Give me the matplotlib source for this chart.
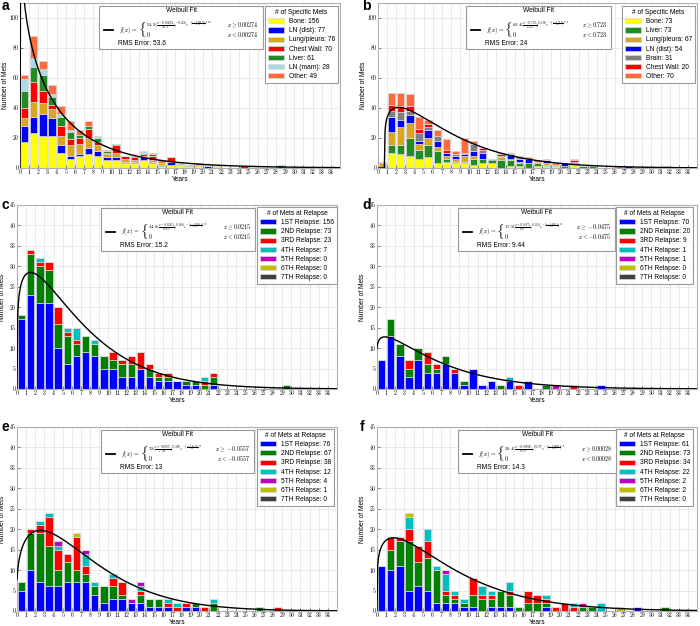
import numpy as np
import matplotlib
matplotlib.use("Agg")
import matplotlib.pyplot as plt
from matplotlib.patches import Rectangle
from matplotlib.lines import Line2D

plt.rcParams['font.family'] = ['Liberation Sans', 'DejaVu Sans']
plt.rcParams['mathtext.fontset'] = 'cm'

# ---------------- data ----------------
# Panel a: specific mets (primary)
a_labels = ["Bone", "LN (dist)", "Lung/pleura", "Chest Wall", "Liver", "LN (mam)", "Other"]
a_totals = [156, 77, 76, 70, 61, 28, 49]
a_bone    = [17, 23, 21, 21, 10, 6, 8, 9, 8, 5, 5, 3, 3, 5, 3, 1, 2, 2, 1, 1, 0, 1, 0, 0, 0, 0, 0, 0, 0]
a_ln_dist = [11, 11, 15, 12, 5, 2, 1, 4, 3, 2, 2, 1, 1, 2, 1, 1, 2, 0, 0, 0, 1, 0, 0, 0, 0, 0, 0, 0, 0]
a_lung    = [5, 10, 7, 6, 6, 7, 7, 7, 4, 2, 3, 2, 1, 1, 1, 1, 0, 0, 0, 1, 0, 0, 0, 0, 0, 0, 0, 0, 0]
a_chest   = [7, 13, 8, 3, 7, 4, 4, 6, 2, 1, 5, 2, 2, 1, 3, 0, 3, 0, 0, 0, 0, 0, 0, 0, 1, 0, 0, 0, 0]
a_liver   = [11, 10, 11, 5, 6, 5, 2, 2, 3, 1, 1, 0, 1, 1, 1, 0, 0, 0, 1, 0, 0, 0, 0, 0, 0, 0, 0, 0, 2]
a_ln_mam  = [8, 6, 4, 2, 2, 1, 0, 0, 1, 0, 0, 0, 0, 1, 0, 0, 0, 1, 0, 0, 1, 0, 0, 0, 0, 0, 0, 0, 0]
a_other   = [3, 15, 5, 6, 5, 6, 3, 3, 0, 1, 0, 0, 0, 0, 1, 2, 0, 0, 0, 1, 0, 0, 0, 0, 0, 0, 0, 0, 0]

# Panel b: specific mets (recurrence)
b_labels = ["Bone", "Liver", "Lung/pleura", "LN (dist)", "Brain", "Chest Wall", "Other"]
b_totals = [73, 73, 67, 54, 31, 20, 70]
b_bone  = [0, 10, 9, 8, 6, 7, 3, 4, 3, 3, 2, 3, 3, 0, 1, 1, 0, 1, 1, 1, 0, 2, 0, 0, 0, 0, 0, 0, 0, 0, 0, 0]
b_liver = [0, 5, 6, 12, 6, 8, 8, 2, 1, 1, 4, 3, 2, 5, 4, 2, 3, 2, 1, 0, 1, 0, 1, 1, 0, 0, 0, 0, 0, 0, 0, 1]
b_lung  = [3, 9, 12, 10, 4, 5, 3, 2, 2, 4, 2, 0, 0, 2, 1, 1, 0, 1, 1, 1, 0, 1, 0, 0, 0, 0, 1, 0, 0, 0, 0, 0]
b_ln    = [0, 10, 5, 5, 2, 5, 4, 2, 2, 1, 3, 4, 1, 0, 3, 2, 3, 0, 2, 0, 2, 1, 0, 0, 0, 0, 0, 1, 0, 0, 0, 0]
b_brain = [0, 4, 5, 3, 5, 2, 3, 0, 1, 0, 5, 2, 0, 1, 0, 1, 0, 0, 0, 0, 0, 0, 0, 0, 0, 0, 0, 0, 0, 0, 0, 0]
b_chest = [0, 4, 4, 3, 3, 2, 0, 2, 0, 1, 0, 1, 0, 1, 0, 0, 0, 0, 0, 0, 0, 1, 0, 0, 0, 0, 0, 0, 0, 0, 0, 0]
b_other = [1, 8, 9, 8, 8, 3, 4, 7, 2, 10, 2, 0, 0, 1, 1, 1, 1, 1, 1, 1, 0, 1, 0, 0, 0, 0, 0, 0, 0, 0, 0, 0]

# Relapse panels c-f
rel_labels = ["1ST Relapse", "2ND Relapse", "3RD Relapse", "4TH Relapse",
              "5TH Relapse", "6TH Relapse", "7TH Relapse"]
c_totals = [156, 73, 23, 7, 0, 0, 0]
c_r1 = [17, 23, 21, 21, 10, 6, 8, 9, 8, 5, 5, 3, 3, 5, 3, 2, 2, 2, 1, 1, 0, 1, 0, 0, 0, 0, 0, 0, 0, 0]
c_r2 = [1, 10, 9, 8, 6, 7, 3, 4, 3, 3, 2, 3, 3, 0, 2, 1, 1, 0, 1, 1, 1, 2, 0, 0, 0, 0, 0, 0, 0, 1]
c_r3 = [0, 1, 1, 2, 4, 1, 1, 0, 0, 0, 2, 1, 2, 4, 1, 1, 1, 0, 0, 0, 1, 1, 0, 0, 0, 0, 0, 0, 0, 0]
c_r4 = [0, 0, 1, 0, 0, 1, 3, 0, 1, 0, 0, 0, 0, 0, 0, 0, 0, 0, 0, 0, 1, 0, 0, 0, 0, 0, 0, 0, 0, 0]
c_r5 = [0] * 30
c_r6 = [0] * 30
c_r7 = [0] * 30

d_totals = [70, 20, 9, 1, 1, 0, 0]
d_r1 = [7, 13, 8, 3, 7, 4, 4, 6, 4, 1, 5, 1, 2, 0, 2, 0, 2, 0, 0, 0, 0, 0, 0, 0, 1]
d_r2 = [0, 4, 3, 2, 3, 2, 1, 2, 0, 1, 0, 0, 0, 1, 0, 0, 0, 0, 1, 0, 0, 0, 0, 0, 0]
d_r3 = [0, 0, 0, 2, 0, 3, 1, 0, 1, 0, 0, 0, 0, 0, 0, 1, 0, 0, 0, 0, 0, 1, 0, 0, 0]
d_r4 = [0, 0, 0, 0, 0, 0, 0, 0, 0, 0, 0, 0, 0, 0, 1, 0, 0, 0, 0, 0, 0, 0, 0, 0, 0]
d_r5 = [0, 0, 0, 0, 0, 0, 0, 0, 0, 0, 0, 0, 0, 0, 0, 0, 0, 0, 0, 1, 0, 0, 0, 0, 0]
d_r6 = [0] * 25
d_r7 = [0] * 25

e_totals = [76, 67, 38, 12, 4, 1, 0]
e_r1 = [5, 10, 7, 6, 6, 7, 7, 7, 4, 2, 3, 3, 2, 2, 1, 1, 1, 0, 1, 1, 0, 0, 0, 0, 0, 0, 0, 0, 0]
e_r2 = [2, 9, 12, 10, 4, 5, 3, 2, 2, 4, 3, 1, 0, 2, 2, 2, 0, 0, 0, 1, 0, 2, 0, 0, 0, 0, 1, 0, 0]
e_r3 = [0, 1, 2, 7, 5, 2, 8, 2, 0, 0, 2, 3, 0, 1, 0, 0, 1, 1, 1, 0, 1, 0, 0, 0, 0, 0, 0, 0, 1]
e_r4 = [0, 0, 1, 1, 1, 0, 0, 3, 1, 0, 1, 0, 0, 1, 0, 0, 1, 1, 0, 0, 0, 1, 0, 0, 0, 0, 0, 0, 0]
e_r5 = [0, 0, 0, 0, 1, 0, 0, 1, 0, 0, 0, 0, 1, 1, 0, 0, 0, 0, 0, 0, 0, 0, 0, 0, 0, 0, 0, 0, 0]
e_r6 = [0, 0, 0, 0, 0, 0, 1, 0, 0, 0, 0, 0, 0, 0, 0, 0, 0, 0, 0, 0, 0, 0, 0, 0, 0, 0, 0, 0, 0]
e_r7 = [0] * 29

f_totals = [61, 73, 34, 22, 2, 2, 0]
f_r1 = [11, 10, 11, 5, 6, 5, 2, 2, 2, 1, 1, 0, 1, 1, 1, 0, 0, 0, 1, 0, 0, 0, 0, 0, 0, 0, 0, 0, 1, 0, 0, 0]
f_r2 = [0, 5, 6, 12, 6, 8, 8, 2, 1, 1, 3, 3, 2, 4, 3, 1, 2, 2, 1, 0, 0, 0, 1, 1, 0, 0, 0, 0, 0, 0, 0, 1]
f_r3 = [0, 3, 1, 3, 4, 4, 0, 1, 1, 0, 4, 1, 1, 0, 1, 0, 3, 2, 1, 1, 2, 1, 0, 0, 0, 0, 0, 0, 0, 0, 0, 0]
f_r4 = [0, 0, 0, 3, 0, 3, 1, 4, 1, 1, 0, 2, 1, 0, 2, 0, 0, 0, 1, 0, 0, 1, 0, 0, 2, 0, 0, 0, 0, 0, 0, 0]
f_r5 = [0, 0, 0, 0, 0, 0, 0, 1, 0, 0, 0, 0, 0, 0, 0, 0, 0, 0, 0, 0, 0, 0, 1, 0, 0, 0, 0, 0, 0, 0, 0, 0]
f_r6 = [0, 0, 0, 1, 0, 0, 0, 0, 0, 0, 0, 0, 0, 0, 0, 0, 0, 0, 0, 0, 0, 0, 0, 0, 0, 0, 1, 0, 0, 0, 0, 0]
f_r7 = [0] * 32

# Weibull fit parameters: amplitude, location, scale, shape ; RMS error
fit_amp   = [94.3, 63.4, 44.6, 17.9, 35.0, 28.4]
fit_loc   = [0.00274, 0.723, 0.0215, -0.0475, -0.0557, 0.00028]
fit_scale = [4.79, 7.23, 6.93, 6.9, 7.94, 8.19]
fit_shape = [0.874, 1.188, 1.186, 1.116, 1.305, 1.197]
fit_rms   = ["53.6", "24", "15.2", "9.44", "13", "14.3"]

year_ticks = list(range(35))

# ---------------- styling ----------------
W, H = 700, 626
fig = plt.figure(figsize=(W / 100, H / 100), dpi=100)

site_colors_a = ["#ffff00", "#0000ff", "#daa520", "#ff0000", "#228b22", "#add8e6", "#ff6a3d"]
site_colors_b = ["#ffff00", "#228b22", "#daa520", "#0000ff", "#808080", "#ff0000", "#ff6a3d"]
rel_colors = ["#0000ff", "#008000", "#ff0000", "#00bfbf", "#bf00bf", "#bfbf00", "#404040"]


def fx(px):
    return px / W


def fy(py):
    return 1 - py / H


panels = [
    dict(letter="a", rect=(20, 3, 340, 168), ymax=110, ystep=20,
         series=[a_bone, a_ln_dist, a_lung, a_chest, a_liver, a_ln_mam, a_other],
         labels=a_labels, totals=a_totals, colors=site_colors_a, title="# of Specific Mets",
         box=(99, 263), leg=(338, 6), lx=2, lyb=10),
    dict(letter="b", rect=(378, 3, 697, 168), ymax=110, ystep=20,
         series=[b_bone, b_liver, b_lung, b_ln, b_brain, b_chest, b_other],
         labels=b_labels, totals=b_totals, colors=site_colors_b, title="# of Specific Mets",
         box=(466, 611), leg=(695, 6), lx=362, lyb=10),
    dict(letter="c", rect=(17, 205, 337, 389), ymax=45, ystep=5,
         series=[c_r1, c_r2, c_r3, c_r4, c_r5, c_r6, c_r7],
         labels=rel_labels, totals=c_totals, colors=rel_colors, title="# of Mets at Relapse",
         box=(101, 255), leg=(337, 207), lx=2, lyb=209),
    dict(letter="d", rect=(377, 205, 697, 389), ymax=45, ystep=5,
         series=[d_r1, d_r2, d_r3, d_r4, d_r5, d_r6, d_r7],
         labels=rel_labels, totals=d_totals, colors=rel_colors, title="# of Mets at Relapse",
         box=(458, 615), leg=(693, 207), lx=362, lyb=209),
    dict(letter="e", rect=(17, 427, 337, 611), ymax=45, ystep=5,
         series=[e_r1, e_r2, e_r3, e_r4, e_r5, e_r6, e_r7],
         labels=rel_labels, totals=e_totals, colors=rel_colors, title="# of Mets at Relapse",
         box=(101, 254), leg=(334, 429), lx=2, lyb=431),
    dict(letter="f", rect=(377, 427, 697, 611), ymax=45, ystep=5,
         series=[f_r1, f_r2, f_r3, f_r4, f_r5, f_r6, f_r7],
         labels=rel_labels, totals=f_totals, colors=rel_colors, title="# of Mets at Relapse",
         box=(458, 616), leg=(693, 429), lx=360, lyb=431),
]

FS = 4.8
xgrid = np.linspace(0, 35, 500)

for i, p in enumerate(panels):
    l, t, r, b = p["rect"]
    ax = fig.add_axes([fx(l), fy(b), (r - l) / W, (b - t) / H])
    ax.set_axisbelow(True)
    n = len(p["series"][0])
    idx = np.arange(n)
    bottom = np.zeros(n)
    for vals, col, lab, tot in zip(p["series"], p["colors"], p["labels"], p["totals"]):
        vals = np.asarray(vals, dtype=float)
        ax.bar(idx + 0.1, vals, width=0.8, bottom=bottom, align="edge", color=col,
               edgecolor="#d9d9d9", linewidth=0.5, label=f"{lab}: {tot}", zorder=2)
        bottom += vals

    A, loc, lam, k = fit_amp[i], fit_loc[i], fit_scale[i], fit_shape[i]
    z = np.where(xgrid > loc, (xgrid - loc) / lam, 1.0)
    yfit = np.where(xgrid > loc, A * z ** (k - 1) * np.exp(-z ** k), 0.0)
    ax.plot(xgrid, yfit, color="black", lw=1.0, zorder=3)

    ax.set_xlim(0, 35)
    ax.set_ylim(0, p["ymax"])
    ax.set_xticks(year_ticks)
    ax.set_xticklabels([str(v) for v in year_ticks], fontfamily="cmr10")
    yt = list(range(0, p["ymax"] + 1, p["ystep"]))
    ax.set_yticks(yt)
    ax.set_yticklabels([str(v) for v in yt], fontfamily="cmr10")
    ax.tick_params(labelsize=4.2, length=2, width=0.5, direction="in", colors="#555555",
                   labelcolor="black", pad=1.2)
    ax.grid(True, color="#e6e6e6", lw=0.6)
    for s in ax.spines.values():
        s.set_color("#b0b0b0")
        s.set_linewidth(0.8)

    ax.set_xlabel("Years", fontsize=FS)
    ax.set_ylabel("Number of Mets", fontsize=FS)
    ax.xaxis.set_label_coords(fx((l + r) / 2), fy(b + 8), transform=fig.transFigure)
    ax.yaxis.set_label_coords(fx(l - 11), fy((t + b) / 2), transform=fig.transFigure)

    leg = ax.legend(title=p["title"], loc="upper right",
                    bbox_to_anchor=(fx(p["leg"][0]), fy(p["leg"][1])),
                    bbox_transform=fig.transFigure, borderaxespad=0,
                    fontsize=FS, title_fontsize=FS, handlelength=2.4, handleheight=0.8,
                    labelspacing=0.32, borderpad=0.45, handletextpad=0.7,
                    fancybox=False, framealpha=1, edgecolor="#999999")
    leg.get_frame().set_linewidth(0.8)

    # Weibull fit box
    bl, br = p["box"]
    bt = t + 3
    bh = 43
    fig.add_artist(Rectangle((fx(bl), fy(bt + bh)), (br - bl) / W, bh / H,
                             transform=fig.transFigure, facecolor="white",
                             edgecolor="#999999", lw=0.8, zorder=5))
    fig.text(fx((bl + br) / 2), fy(bt + 5), "Weibull Fit", fontsize=FS,
             ha="center", va="center", zorder=6)
    fig.add_artist(Line2D([fx(bl + 5), fx(bl + 14)], [fy(bt + 24), fy(bt + 24)],
                          transform=fig.transFigure, color="black", lw=1.3, zorder=6))
    fig.text(fx(bl + 20), fy(bt + 24), r"$f(x)=$", fontsize=4.3, ha="left",
             va="center", zorder=6)
    fig.text(fx(bl + 38.5), fy(bt + 23.5), r"$\{$", fontsize=9.5, ha="left",
             va="center", zorder=6)
    sgn = "-" if loc >= 0 else "+"
    inner = rf"\frac{{x{sgn}{abs(loc):g}}}{{{lam:g}}}"
    row1 = rf"${A:g}({inner})^{{{k - 1:.3g}}}e^{{-({inner})^{{{k:.3g}}}}}$"
    fig.text(fx(bl + 46.5), fy(bt + 19.5), row1, fontsize=3.4, ha="left", va="center", zorder=6)
    fig.text(fx(bl + 46.5), fy(bt + 28.5), r"$0$", fontsize=4.3, ha="left", va="center", zorder=6)
    fig.text(fx(br - 4), fy(bt + 19.5), rf"$x \geq {loc:g}$", fontsize=4.3, ha="right",
             va="center", zorder=6)
    fig.text(fx(br - 4), fy(bt + 28.5), rf"$x < {loc:g}$", fontsize=4.3, ha="right",
             va="center", zorder=6)
    fig.text(fx(bl + 19), fy(bt + 37.5), f"RMS Error: {fit_rms[i]}", fontsize=FS,
             ha="left", va="center", zorder=6)

    fig.text(fx(p["lx"]), fy(p["lyb"]), p["letter"], fontsize=10, fontweight="bold",
             ha="left", va="baseline")

fig.savefig("out.png", dpi=100)
